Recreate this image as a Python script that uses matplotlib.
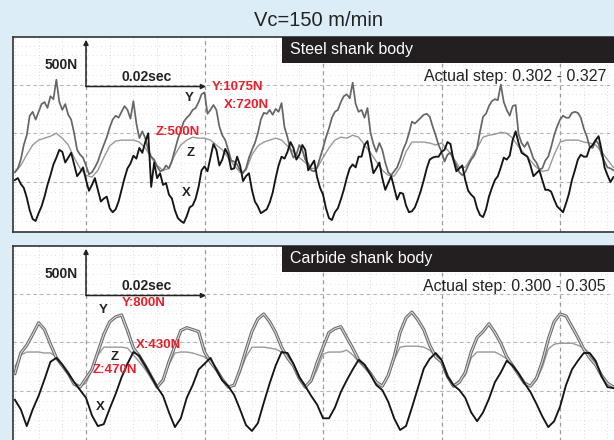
import numpy as np
import matplotlib
matplotlib.use("Agg")
import matplotlib.pyplot as plt
from matplotlib.patches import Rectangle

plt.rcParams['font.family'] = ['Liberation Sans', 'DejaVu Sans']

# ---------------- data (time in ms, force in N) ----------------
# steel shank body: X and Y read every 0.5 ms, Z every 1 ms
t_fine = np.arange(-12, 89.01, 0.5)
t_ms = np.arange(-12, 90)

steel_x = [20, 40, -20, -60, -160, -290, -380, -400, -320, -250, -150, -30, 70, 180, 250, 330, 310, 200, 250, 300,
           180, 60, 100, 150, 20, -90, -30, 40, -80, -200, -170, -150, -270, -310, -280, -200, -80, 40, 140, 190,
           270, 240, 350, 300, 410, 500, -50, 200, 40, 90, -30, -10, -130, -170, -290, -370, -400, -420, -350, -260,
           -240, -170, -50, 120, 160, 110, 250, 390, 330, 170, 230, 340, 280, 130, 140, 260, 170, 10, 60, 90,
           -80, -200, -250, -320, -300, -280, -210, -110, 40, 170, 260, 240, 310, 410, 350, 230, 280, 380, 330, 120,
           170, 220, 50, -60, -130, -270, -370, -390, -310, -270, -180, -80, 40, 140, 180, 150, 260, 260, 380, 420,
           250, 90, 140, 200, 40, -80, -10, 60, -60, -180, -110, -120, -240, -310, -300, -260, -180, -90, 20, 140,
           230, 250, 260, 260, 310, 330, 410, 390, 230, 110, 140, 170, 20, -90, -130, -160, -270, -340, -360, -280,
           -150, -60, 20, 60, 150, 250, 230, 270, 430, 520, 400, 300, 280, 260, 170, 60, 90, 120, 20, -80,
           -80, -100, -180, -250, -280, -310, -220, -120, 20, 120, 230, 280, 260, 260, 350, 380, 430, 470, 330, 150,
           70, 0, 50]
steel_y = [100, 140, 230, 380, 480, 680, 720, 640, 720, 800, 820, 760, 880, 850, 1050, 820, 740, 800, 690, 640,
           500, 330, 280, 250, 170, 80, 100, 150, 210, 300, 380, 460, 560, 640, 680, 660, 720, 780, 740, 650,
           830, 600, 450, 520, 450, 330, 260, 230, 160, 110, 120, 170, 140, 220, 330, 440, 530, 620, 660, 690,
           740, 760, 820, 900, 920, 700, 740, 790, 740, 570, 480, 430, 330, 220, 210, 180, 120, 90, 140, 250,
           330, 400, 500, 640, 710, 700, 740, 690, 750, 720, 810, 560, 460, 330, 250, 280, 380, 330, 230, 190,
           120, 110, 150, 250, 350, 460, 550, 660, 720, 740, 820, 880, 900, 860, 1020, 800, 720, 740, 660, 760,
           510, 390, 310, 400, 330, 200, 100, 70, 110, 150, 230, 330, 400, 500, 620, 600, 630, 660, 690, 700,
           670, 570, 480, 380, 310, 210, 280, 300, 230, 170, 100, 70, 100, 170, 230, 270, 350, 520, 670, 700,
           780, 830, 850, 840, 1000, 820, 740, 680, 780, 790, 490, 400, 360, 410, 330, 240, 200, 130, 140, 220,
           260, 360, 480, 570, 640, 680, 660, 660, 710, 720, 710, 660, 550, 470, 360, 350, 430, 390, 280, 210,
           150, 140, 120]
steel_z = [100, 170, 280, 380, 430, 450, 470, 500, 450, 380,
           250, 140, 70, 50, 120, 250, 370, 420, 430, 430,
           430, 410, 350, 250, 170, 120, 140, 280, 380, 430,
           460, 450, 450, 430, 380, 330, 250, 170, 100, 120,
           280, 370, 410, 430, 450, 430, 370, 310, 250, 200,
           140, 140, 250, 350, 430, 460, 450, 480, 460, 380,
           300, 210, 120, 70, 60, 150, 310, 410, 410, 410,
           400, 380, 400, 330, 250, 150, 150, 250, 350, 460,
           480, 490, 510, 500, 450, 360, 290, 220, 150, 110,
           120, 280, 410, 430, 430, 430, 410, 400, 380, 310,
           230, 150]

# carbide shank body: every 1 ms
carb_x = [-90, -190, -360, -190, -50, 120, 300, 340, 270, 180,
          90, 10, -70, -250, -360, -340, -180, -30, 140, 280,
          400, 360, 260, 150, 40, -50, -220, -370, -280, -70,
          60, 220, 280, 340, 220, 110, 50, -40, -190, -350,
          -410, -330, -120, 80, 260, 400, 390, 280, 140, 50,
          -50, -140, -280, -280, -170, -10, 110, 220, 320, 270,
          170, 60, 10, -110, -280, -400, -360, -170, 30, 230,
          330, 390, 320, 150, 60, 10, -70, -220, -310, -220,
          -80, 90, 190, 310, 260, 180, 80, -10, -130, -260,
          -370, -310, -160, 60, 220, 310, 390, 390, 310, 150,
          40, 30]
carb_y = [180, 390, 470, 580, 700, 630, 480, 340, 260, 180,
          70, 40, 130, 220, 400, 580, 710, 760, 780, 620,
          440, 360, 260, 150, 40, 110, 300, 460, 620, 650,
          630, 610, 400, 300, 220, 120, 40, 60, 220, 420,
          610, 740, 790, 710, 600, 450, 340, 260, 130, 40,
          110, 290, 450, 600, 640, 660, 550, 440, 320, 260,
          180, 90, 50, 160, 350, 600, 750, 810, 730, 630,
          470, 350, 300, 150, 50, 90, 190, 400, 550, 610,
          690, 600, 490, 350, 260, 170, 80, 50, 130, 300,
          530, 710, 790, 770, 660, 550, 430, 340, 270, 160,
          80, 40]
carb_z = [250, 370, 400, 400, 400, 390, 390, 350, 270, 180,
          90, 50, 80, 220, 370, 450, 450, 450, 450, 440,
          370, 300, 220, 130, 40, 130, 270, 390, 400, 400,
          390, 370, 350, 300, 220, 120, 50, 50, 190, 350,
          450, 450, 450, 440, 430, 400, 350, 270, 150, 50,
          90, 220, 380, 400, 400, 400, 420, 370, 300, 240,
          170, 90, 50, 160, 320, 450, 460, 460, 460, 450,
          420, 360, 300, 150, 60, 110, 160, 340, 400, 400,
          400, 400, 370, 330, 260, 180, 80, 50, 110, 240,
          430, 480, 490, 490, 490, 470, 440, 390, 300, 170,
          70, 50]

panels = [
    dict(title="Steel shank body", step="Actual step: 0.302 - 0.327",
         tx=t_fine, x=steel_x, ty=t_fine, y=steel_y, tz=t_ms, z=steel_z, hollow=False,
         red=[("Y:1075N", 21.3, 975), ("X:720N", 23.3, 790), ("Z:500N", 11.8, 513)],
         blk=[("Y", 17.4, 862), ("Z", 17.6, 298), ("X", 16.9, -113)]),
    dict(title="Carbide shank body", step="Actual step: 0.300 - 0.305",
         tx=t_ms, x=carb_x, ty=t_ms, y=carb_y, tz=t_ms, z=carb_z, hollow=True,
         red=[("Y:800N", 6.1, 903), ("X:430N", 8.4, 472), ("Z:470N", 1.2, 215)],
         blk=[("Y", 2.9, 831), ("Z", 4.9, 349), ("X", 2.4, -164)]),
]

# ---------------- figure ----------------
W, H = 614, 440
fig = plt.figure(figsize=(W / 100, H / 100), dpi=100)
fig.patch.set_facecolor('#dcedf8')

def rect(x0, y0, x1, y1):
    return [x0 / W, 1 - y1 / H, (x1 - x0) / W, (y1 - y0) / H]

fig.text(318 / W, 1 - 20 / H, "Vc=150 m/min", ha='center', va='center',
         fontsize=14.5, color='#222222')

boxes = [rect(13, 37, 614, 232), rect(13, 246, 614, 441)]
for p, box in zip(panels, boxes):
    ax = fig.add_axes(box)
    ax.set_facecolor('white')
    ax.set_xlim(-12.32, 89.1)
    ax.set_ylim(-513, 1488)
    # oscilloscope graticule
    for v in np.arange(-12, 90, 4):
        ax.axvline(v, color='#cfcfcf', lw=0.6, ls=(0, (1, 3)), zorder=0)
    for v in np.arange(-500, 1500, 100):
        ax.axhline(v, color='#d6d6d6', lw=0.6, ls=(0, (1, 4)), zorder=0)
    for v in [0, 20, 40, 60, 80]:
        ax.axvline(v, color='#9a9a9a', lw=0.9, ls=(0, (3, 3)), zorder=0.5)
    for v in [0, 500, 1000]:
        ax.axhline(v, color='#b5b5b5', lw=0.8, ls=(0, (3, 3)), zorder=0.5)

    ax.plot(p["tz"], p["z"], color='#999999', lw=1.0, zorder=2)
    if p["hollow"]:
        ax.plot(p["ty"], p["y"], color='#6a6a6a', lw=2.3, zorder=3)
        ax.plot(p["ty"], p["y"], color='#d8d8d8', lw=0.8, zorder=3.1)
    else:
        ax.plot(p["ty"], p["y"], color='#666666', lw=1.25, zorder=3)
    ax.plot(p["tx"], p["x"], color='#151515', lw=1.35, zorder=4)

    ax.set_xticks([]); ax.set_yticks([])
    for s in ['left', 'top', 'bottom']:
        ax.spines[s].set_color('#333333'); ax.spines[s].set_linewidth(1.2)
    ax.spines['right'].set_visible(False)

    # scale arrows
    ax.annotate('', xy=(0, 1460), xytext=(0, 980),
                arrowprops=dict(arrowstyle='-|>', color='#222', lw=1.1,
                                mutation_scale=7, shrinkA=0, shrinkB=0), zorder=6)
    ax.annotate('', xy=(20.25, 980), xytext=(0, 980),
                arrowprops=dict(arrowstyle='-|>', color='#222', lw=1.1,
                                mutation_scale=7, shrinkA=0, shrinkB=0), zorder=6)
    ax.text(-1.35, 1200, "500N", ha='right', va='center', fontsize=10,
            fontweight='bold', color='#222')
    ax.text(10.3, 1080, "0.02sec", ha='center', va='center', fontsize=10,
            fontweight='bold', color='#222')

    for s, tx, fy in p["red"]:
        ax.text(tx, fy, s, ha='left', va='center', fontsize=9.5,
                fontweight='bold', color='#e8202a', zorder=7)
    for s, tx, fy in p["blk"]:
        ax.text(tx, fy, s, ha='center', va='center', fontsize=9.5,
                fontweight='bold', color='#222', zorder=7)

    # header bar and step text
    ax.add_patch(Rectangle((0.4476, 1 - 26 / 195), 1 - 0.4476, 26 / 195,
                           transform=ax.transAxes, facecolor='#231f20',
                           edgecolor='none', zorder=8, clip_on=False))
    ax.text(0.461, 1 - 13 / 195, p["title"], transform=ax.transAxes,
            ha='left', va='center', color='white', fontsize=11.5, zorder=9)
    ax.text(0.9867, 1 - 40 / 195, p["step"], transform=ax.transAxes,
            ha='right', va='center', color='#222', fontsize=11.5, zorder=9)

fig.savefig("out.png", dpi=100, facecolor=fig.get_facecolor())
